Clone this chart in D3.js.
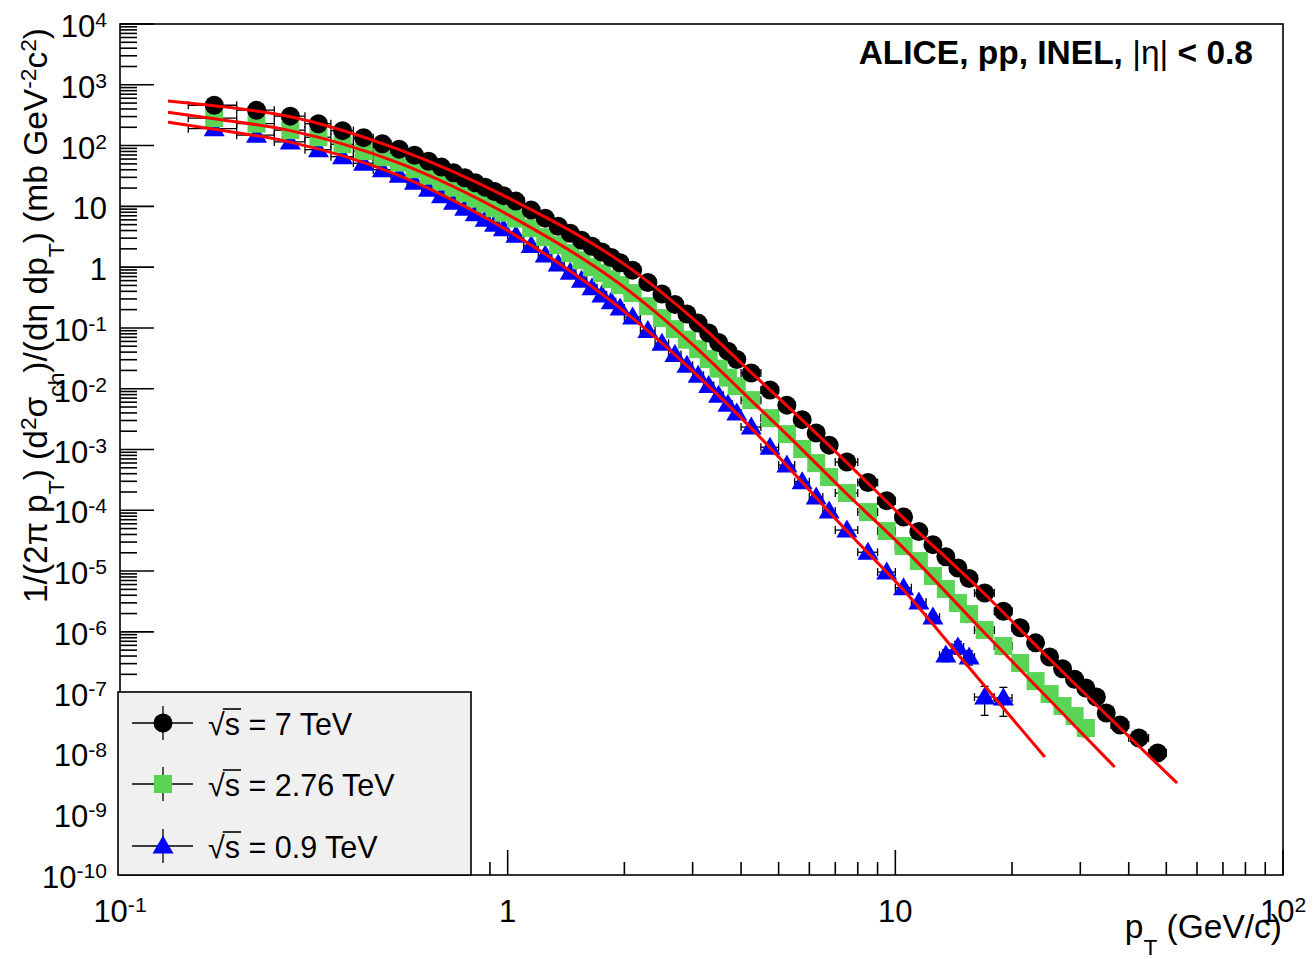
<!DOCTYPE html>
<html><head><meta charset="utf-8">
<script src="https://cdn.jsdelivr.net/npm/d3@7"></script>
<style>
body{margin:0;background:#fff;}
svg{display:block;font-family:"Liberation Sans",Arial,Helvetica,sans-serif;}
</style></head><body>
<svg id="chart" width="1313" height="959"></svg>
<script>
// ---------------- data ----------------
const ptEdges = [0.15,0.2,0.25,0.3,0.35,0.4,0.45,0.5,0.55,0.6,0.65,0.7,0.75,0.8,0.85,0.9,0.95,1.0,
  1.1,1.2,1.3,1.4,1.5,1.6,1.7,1.8,1.9,2.0,2.2,2.4,2.6,2.8,3.0,3.2,3.4,3.6,3.8,4.0,
  4.5,5.0,5.5,6.0,6.5,7.0,8.0,9.0,10,11,12,13,14,15,16,18,20,22,24,26,28,30,32,34,36,40,45,50];

const sigma7 = [461,382,305,229,176,135,107,87.3,69.5,55.3,44.2,35.8,29.6,24.5,20.7,17.5,15.0,
  12.2,8.67,6.40,4.72,3.62,2.78,2.21,1.77,1.44,1.18,
  0.893,0.558,0.362,0.244,0.169,0.120,0.0824,0.0577,0.0415,0.0302,
  0.0181,0.00953,0.00537,0.00310,0.00187,0.00118,
  6.21e-4,2.86e-4,1.44e-4,7.73e-5,4.47e-5,2.72e-5,1.72e-5,1.12e-5,7.55e-6,
  4.35e-6,2.18e-6,1.17e-6,6.59e-7,3.85e-7,2.48e-7,1.66e-7,1.19e-7,8.47e-8,4.61e-8,
  2.93e-8,1.79e-8,1.02e-8];
const sigma276 = [282,229,179,137,105,80.9,64.4,52.4,40.9,32.0,25.5,20.3,16.5,13.4,11.1,9.34,7.88,
  6.28,4.38,3.11,2.30,1.70,1.30,1.00,0.797,0.635,0.506,
  0.374,0.228,0.145,0.0955,0.0642,0.0448,0.0307,0.0214,0.0152,0.0110,
  0.00649,0.00328,0.00179,0.00102,5.97e-4,3.52e-4,
  1.92e-4,9.33e-5,4.55e-5,2.58e-5,1.46e-5,8.28e-6,5.06e-6,2.98e-6,1.96e-6,
  1.07e-6,5.84e-7,3.07e-7,1.55e-7,9.48e-8,6.02e-8,4.12e-8,2.62e-8];
const sigma09 = [190,148,115,85.7,65.7,51.3,40.2,32.6,25.0,19.2,15.0,11.7,9.34,7.59,6.16,5.09,4.30,
  3.36,2.27,1.58,1.13,0.828,0.609,0.457,0.349,0.270,0.212,
  0.151,0.0903,0.0562,0.0364,0.0243,0.0167,0.0113,0.00782,0.00554,0.00398,
  0.00234,0.00109,5.54e-4,2.95e-4,1.65e-4,9.74e-5,
  4.72e-5,2.04e-5,9.63e-6,5.33e-6,3.09e-6,1.75e-6,4.15e-7,5.62e-7,3.85e-7,
  8.46e-8,8.15e-8];

// relative vertical uncertainties
const err7 = [0.07,0.07,0.07,0.07,0.07,0.07,0.07,0.07,0.07,0.07,0.07,0.07,0.07,0.07,0.07,0.07,0.07,
  0.06,0.06,0.06,0.06,0.06,0.06,0.06,0.06,0.06,0.06,
  0.06,0.06,0.06,0.06,0.06,0.06,0.06,0.06,0.06,0.06,
  0.07,0.07,0.07,0.07,0.07,0.07,
  0.08,0.08,0.08,0.09,0.09,0.09,0.1,0.1,0.1,
  0.1,0.1,0.11,0.12,0.13,0.14,0.15,0.16,0.17,0.18,
  0.2,0.22,0.25];
const err276 = [0.07,0.07,0.07,0.07,0.07,0.07,0.07,0.07,0.07,0.07,0.07,0.07,0.07,0.07,0.07,0.07,0.07,
  0.06,0.06,0.06,0.06,0.06,0.06,0.06,0.06,0.06,0.06,
  0.06,0.06,0.06,0.06,0.06,0.06,0.06,0.06,0.06,0.06,
  0.07,0.07,0.07,0.07,0.07,0.07,
  0.08,0.08,0.09,0.1,0.1,0.11,0.12,0.13,0.14,
  0.15,0.16,0.18,0.2,0.22,0.24,0.26,0.28];
const err09 = [0.07,0.07,0.07,0.07,0.07,0.07,0.07,0.07,0.07,0.07,0.07,0.07,0.07,0.07,0.07,0.07,0.07,
  0.06,0.06,0.06,0.06,0.06,0.06,0.06,0.06,0.06,0.06,
  0.06,0.06,0.06,0.06,0.06,0.06,0.06,0.06,0.06,0.06,
  0.07,0.07,0.08,0.08,0.09,0.09,
  0.1,0.1,0.11,0.12,0.14,0.16,0.22,0.24,0.26,
  0.5,0.5];

// fit curves
const fitPt7   = [0.133,0.175,0.275,0.525,1.05,2.1,3.1,4.25,5.25,7.5,10.5,17,25,53.3];
const fitVal7  = [543,453,299,85.7,11.9,0.893,0.120,0.0184,0.00527,6.09e-4,7.45e-5,4.19e-6,3.57e-7,3.26e-9];
const fitPt276 = [0.133,0.175,0.275,0.525,1.05,2.1,3.1,4.25,5.25,7.5,10.5,17,25,36.8];
const fitVal276= [354,277,176,51.3,6.16,0.366,0.0440,0.00637,0.00176,1.85e-4,2.39e-5,9.55e-7,7.56e-8,5.97e-9];
const fitPt09  = [0.133,0.175,0.275,0.525,1.05,2.1,3.1,4.25,5.25,7.5,10.5,15,24.3];
const fitVal09 = [243,186,114,32.0,3.30,0.145,0.0161,0.00225,5.43e-4,4.55e-5,4.87e-6,3.31e-7,8.73e-9];

const legendLabels = ["7 TeV","2.76 TeV","0.9 TeV"];
const xTickExps = [-1,0,1,2];
const yTickExps = [4,3,2,1,0,-1,-2,-3,-4,-5,-6,-7,-8,-9,-10];

// ---------------- layout ----------------
const P = {left:120,right:1283,top:24,bottom:875};
const svg = d3.select("#chart");
svg.append("rect").attr("width",1313).attr("height",959).attr("fill","#fff");
const x = d3.scaleLog().domain([0.1,100]).range([P.left,P.right]);
const y = d3.scaleLog().domain([1e-10,1e4]).range([P.bottom,P.top]);

function rich(textSel, parts, base, supShift, subShift){
  let cur = 0;
  parts.forEach(([t,m])=>{
    const ts = textSel.append("tspan").text(t);
    let target = 0, size = base;
    if (m==="sup"){ target = -supShift*base; size = 0.68*base; }
    else if (m==="sub"){ target = subShift*base; size = 0.68*base; }
    ts.attr("font-size",size);
    if (target-cur!==0) ts.attr("dy",target-cur);
    cur = target;
  });
}
function expParts(e){
  if (e===0) return [["1",""]];
  if (e===1) return [["10",""]];
  return [["10",""],[String(e),"sup"]];
}

// frame
svg.append("rect").attr("x",P.left).attr("y",P.top).attr("width",P.right-P.left).attr("height",P.bottom-P.top)
  .attr("fill","none").attr("stroke","#000").attr("stroke-width",1.6);

// ticks
const isMajor = v => Math.abs(Math.log10(v)-Math.round(Math.log10(v)))<1e-9;
const tg = svg.append("g").attr("stroke","#000").attr("stroke-width",1.6);
y.ticks(30).forEach(t=>{
  const len = isMajor(t)?34:17;
  tg.append("line").attr("x1",P.left).attr("x2",P.left+len).attr("y1",y(t)).attr("y2",y(t));
});
x.ticks(30).forEach(t=>{
  const len = isMajor(t)?25:13;
  tg.append("line").attr("x1",x(t)).attr("x2",x(t)).attr("y1",P.bottom).attr("y2",P.bottom-len);
});

// tick labels
const LF = 31;
yTickExps.forEach(e=>{
  const t = svg.append("text").attr("x",107).attr("y",y(Math.pow(10,e))+13)
    .attr("text-anchor","end").attr("font-size",LF).attr("fill","#000");
  rich(t, expParts(e), LF, 0.32, 0.4);
});
xTickExps.forEach(e=>{
  const t = svg.append("text").attr("x",x(Math.pow(10,e))).attr("y",922)
    .attr("text-anchor","middle").attr("font-size",LF).attr("fill","#000");
  rich(t, expParts(e), LF, 0.32, 0.4);
});

// axis titles
const xt = svg.append("text").attr("x",1282).attr("y",938).attr("text-anchor","end").attr("font-size",33.5);
rich(xt, [["p",""],["T","sub"],[" (GeV/c)",""]], 33.5, 0.32, 0.52);
const yt = svg.append("text").attr("transform","translate(47,28) rotate(-90)").attr("text-anchor","end").attr("font-size",33.5);
rich(yt, [["1/(2\u03c0 p",""],["T","sub"],[") (d",""],["2","sup"],["\u03c3",""],["ch","sub"],[")/(d\u03b7 dp",""],["T","sub"],[") (mb GeV",""],["-2","sup"],["c",""],["2","sup"],[")",""]], 33.5, 0.32, 0.5);

// label
const lab = svg.append("text").attr("x",1253).attr("y",64).attr("text-anchor","end").attr("font-size",33.5).attr("font-weight","bold");
lab.append("tspan").text("ALICE, pp, INEL, ");
lab.append("tspan").attr("font-weight","normal").text("|\u03b7|");
lab.append("tspan").text(" < 0.8");

// markers
function marker(g, type, cx, cy, color){
  if (type==="circle") g.append("circle").attr("cx",cx).attr("cy",cy).attr("r",9.5).attr("fill",color);
  else if (type==="square") g.append("rect").attr("x",cx-9).attr("y",cy-9).attr("width",18).attr("height",18).attr("fill",color);
  else g.append("path").attr("d",`M${cx},${cy-10.5}L${cx+10.5},${cy+7.5}L${cx-10.5},${cy+7.5}Z`).attr("fill",color);
}

function drawSeries(vals, errs, type, color){
  const g = svg.append("g");
  const eb = g.append("g").attr("stroke","#000").attr("stroke-width",1.3);
  vals.forEach((v,i)=>{
    const lo = ptEdges[i], hi = ptEdges[i+1], c = (lo+hi)/2;
    const cx = x(c), cy = y(v);
    eb.append("line").attr("x1",x(lo)).attr("x2",x(hi)).attr("y1",cy).attr("y2",cy);
    eb.append("line").attr("x1",x(lo)).attr("x2",x(lo)).attr("y1",cy-4).attr("y2",cy+4);
    eb.append("line").attr("x1",x(hi)).attr("x2",x(hi)).attr("y1",cy-4).attr("y2",cy+4);
    const yu = y(v*(1+errs[i])), yd = y(v*(1-errs[i]));
    eb.append("line").attr("x1",cx).attr("x2",cx).attr("y1",yu).attr("y2",yd);
    eb.append("line").attr("x1",cx-4).attr("x2",cx+4).attr("y1",yu).attr("y2",yu);
    eb.append("line").attr("x1",cx-4).attr("x2",cx+4).attr("y1",yd).attr("y2",yd);
  });
  vals.forEach((v,i)=>{
    const c = (ptEdges[i]+ptEdges[i+1])/2;
    marker(g, type, x(c), y(v), color);
  });
}
const C7 = "#000000", C276 = "#59d454", C09 = "#0000ff";
drawSeries(sigma09, err09, "triangle", C09);
drawSeries(sigma276, err276, "square", C276);
drawSeries(sigma7, err7, "circle", C7);

// fits
const lineGen = d3.line().x(d=>x(d[0])).y(d=>y(d[1])).curve(d3.curveMonotoneX);
[[fitPt7,fitVal7],[fitPt276,fitVal276],[fitPt09,fitVal09]].forEach(([p,v])=>{
  svg.append("path").attr("d",lineGen(p.map((q,i)=>[q,v[i]]))).attr("fill","none")
    .attr("stroke","#ff0000").attr("stroke-width",3);
});

// legend
const L = svg.append("g");
L.append("rect").attr("x",118).attr("y",692).attr("width",353).attr("height",183)
  .attr("fill","#f0f0f0").attr("stroke","#000").attr("stroke-width",1.6);
const legTypes = ["circle","square","triangle"], legColors = [C7,C276,C09], legY = [723,784,846];
legendLabels.forEach((lbl,i)=>{
  const cy = legY[i];
  L.append("line").attr("x1",132).attr("x2",193).attr("y1",cy).attr("y2",cy).attr("stroke","#000").attr("stroke-width",1.3);
  L.append("line").attr("x1",163).attr("x2",163).attr("y1",cy-17).attr("y2",cy+17).attr("stroke","#000").attr("stroke-width",1.3);
  marker(L, legTypes[i], 163, cy, legColors[i]);
  const t = L.append("text").attr("x",208).attr("y",cy+12).attr("font-size",30.5);
  t.append("tspan").text("\u221a");
  t.append("tspan").text("s");
  t.append("tspan").text(" = "+lbl);
  const n = t.node();
  const e0 = n.getEndPositionOfChar(0).x;
  const e1 = n.getEndPositionOfChar(1).x;
  L.append("line").attr("x1",e0-2).attr("x2",e1+1).attr("y1",cy+12-26).attr("y2",cy+12-26)
    .attr("stroke","#000").attr("stroke-width",1.6);
});
</script>
</body></html>
